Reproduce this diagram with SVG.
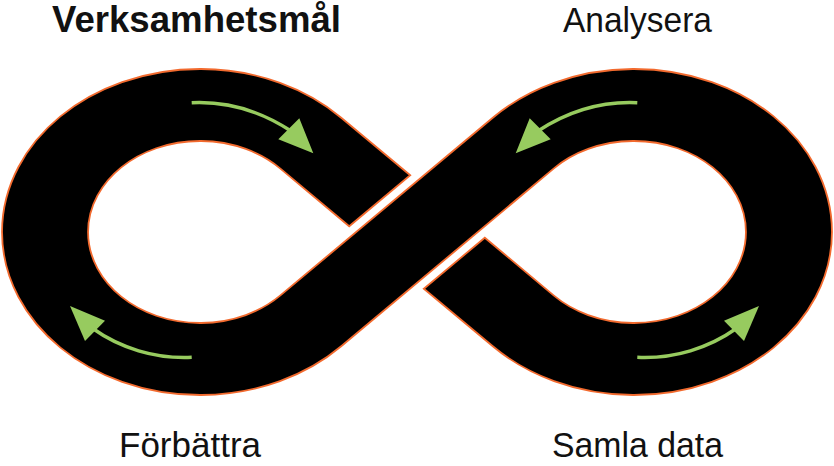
<svg xmlns="http://www.w3.org/2000/svg" width="834" height="466" viewBox="0 0 834 466">
  <style>
    .band { fill: #000000; stroke: #f26a2e; stroke-width: 1.8; stroke-linejoin: miter; }
    .arr { fill: none; stroke: #97cb5f; stroke-width: 3.4; stroke-linecap: butt; }
    .head { fill: #97cb5f; stroke: none; }
    .lbl { font-family: "Liberation Sans", Arial, sans-serif; font-size: 35px; fill: #111111; }
    .bold { font-weight: bold; font-size: 36px; }
  </style>
  <rect width="834" height="466" fill="#ffffff"/>
  <g id="infinity-loop">
    <path class="band" d="M410.2,175.2 L341.2,117.7 A198,163 0 1 0 341.2,346.3 L553.6,168.6 A112,91 0 1 1 553.6,295.4 L484.8,237.7 L423.8,288.8 L492.8,346.3 A198,163 0 1 0 492.8,117.7 L280.4,295.4 A112,91 0 1 1 280.4,168.6 L349.2,226.3 Z"/>
  </g>
  <g id="connectors">
    <g id="arrow-top-left">
      <path class="arr" d="M191.7,102.7 C228,101 262,112 291,131"/>
      <polygon class="head" points="313.3,153.3 278.3,139.3 299.3,118.3"/>
    </g>
    <g id="arrow-bottom-left">
      <path class="arr" d="M191.7,357.3 C155,359 120,348 92,328"/>
      <polygon class="head" points="70,306 105,320.7 85,341"/>
    </g>
    <g id="arrow-top-right">
      <path class="arr" d="M637.3,102.7 C601,101 567,112 538,131"/>
      <polygon class="head" points="515.7,153.3 550.7,139.3 529.7,118.3"/>
    </g>
    <g id="arrow-bottom-right">
      <path class="arr" d="M637.3,357.3 C674,359 709,348 737,328"/>
      <polygon class="head" points="759,306 724,320.7 744,341"/>
    </g>
  </g>
  <g id="label-verksamhetsmal">
    <text class="lbl bold" x="52" y="31.5" textLength="289" lengthAdjust="spacingAndGlyphs">Verksamhetsmål</text>
  </g>
  <g id="label-analysera">
    <text class="lbl" x="563" y="31.5" textLength="149" lengthAdjust="spacingAndGlyphs">Analysera</text>
  </g>
  <g id="label-forbattra">
    <text class="lbl" x="119" y="456.5" textLength="142" lengthAdjust="spacingAndGlyphs">Förbättra</text>
  </g>
  <g id="label-samla-data">
    <text class="lbl" x="552" y="456.5" textLength="171" lengthAdjust="spacingAndGlyphs">Samla data</text>
  </g>
</svg>
